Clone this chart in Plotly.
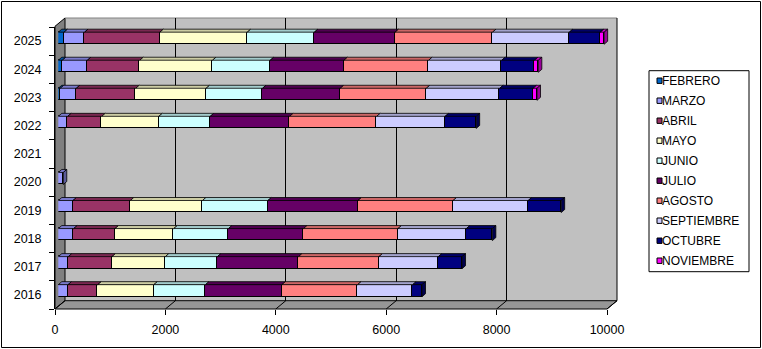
import plotly.graph_objects as go

# ---- data -------------------------------------------------------------
years = [2016, 2017, 2018, 2019, 2020, 2021, 2022, 2023, 2024, 2025]
months = ["FEBRERO", "MARZO", "ABRIL", "MAYO", "JUNIO", "JULIO",
          "AGOSTO", "SEPTIEMBRE", "OCTUBRE", "NOVIEMBRE"]

FEBRERO = [0, 0, 0, 0, 0, 0, 0, 36, 73, 105]
MARZO = [176, 181, 279, 266, 90, 0, 170, 290, 453, 370]
ABRIL = [539, 792, 749, 1039, 0, 0, 617, 1077, 950, 1365]
MAYO = [1015, 966, 1064, 1306, 0, 0, 1034, 1275, 1317, 1583]
JUNIO = [936, 943, 990, 1186, 0, 0, 931, 1021, 1046, 1215]
JULIO = [1385, 1469, 1360, 1632, 0, 0, 1439, 1409, 1336, 1463]
AGOSTO = [1371, 1458, 1712, 1723, 0, 0, 1577, 1559, 1534, 1765]
SEPTIEMBRE = [997, 1075, 1238, 1360, 0, 0, 1240, 1329, 1324, 1391]
OCTUBRE = [170, 430, 471, 598, 0, 0, 562, 606, 593, 562]
NOVIEMBRE = [0, 0, 0, 0, 0, 0, 0, 70, 70, 70]

series = [FEBRERO, MARZO, ABRIL, MAYO, JUNIO, JULIO,
          AGOSTO, SEPTIEMBRE, OCTUBRE, NOVIEMBRE]
colors = ["#0066CC", "#9999FF", "#993366", "#FFFFCC", "#CCFFFF",
          "#660066", "#FF8080", "#CCCCFF", "#000080", "#FF00FF"]

x_ticks = [0, 2000, 4000, 6000, 8000, 10000]
x_max = 10000

# ---- geometry of the 3-D box (pixels) ---------------------------------
W, H = 762, 349
L, R, T, B = 55, 617, 18, 309          # plot area
DEPTH_X, DEPTH_Y = 10, 8.3             # floor depth offset
PX_PER_UNIT = (R - DEPTH_X - L) / x_max


def fx(p):
    return (p - L) / (R - L)


def fy(p):
    return (B - p) / (B - T)


def shade(hex_color, k):
    h = hex_color.lstrip("#")
    r, g, b = (int(h[i:i + 2], 16) for i in (0, 2, 4))
    return "#%02X%02X%02X" % (int(r * k), int(g * k), int(b * k))


BAR_W = 0.43
TOP_DX = 3.5 / PX_PER_UNIT             # bar depth in data units
TOP_DY = 3.0 / 28.05

fig = go.Figure()

# placeholders so the grid subplot and the labelled axes are built
fig.add_trace(go.Scatter(x=[None], y=[None], xaxis="x", yaxis="y",
                         showlegend=False, hoverinfo="skip"))
fig.add_trace(go.Scatter(x=[None], y=[None], xaxis="x3", yaxis="y3",
                         showlegend=False, hoverinfo="skip"))

# front faces of the stacked bars
for name, vals, col in zip(months, series, colors):
    fig.add_trace(go.Bar(
        y=years, x=[v if v > 0 else None for v in vals], name=name,
        orientation="h", width=BAR_W, xaxis="x2", yaxis="y2",
        marker=dict(color=col, line=dict(color="#000000", width=1)),
        showlegend=False,
    ))

# top faces of every segment
cum = [0] * len(years)
last_col = [None] * len(years)
for name, vals, col in zip(months, series, colors):
    px, py = [], []
    for j, (yr, v) in enumerate(zip(years, vals)):
        if v > 0:
            x0, x1 = cum[j], cum[j] + v
            yt = yr + BAR_W / 2
            px += [x0, x1, x1 + TOP_DX, x0 + TOP_DX, x0, None]
            py += [yt, yt, yt + TOP_DY, yt + TOP_DY, yt, None]
            cum[j] = x1
            last_col[j] = col
    if px:
        fig.add_trace(go.Scatter(
            x=px, y=py, mode="lines", fill="toself",
            fillcolor=shade(col, 0.8),
            line=dict(color="#000000", width=0.8),
            xaxis="x2", yaxis="y2", showlegend=False, hoverinfo="skip",
            cliponaxis=False,
        ))

# right-hand side face at the end of each bar
for j, yr in enumerate(years):
    if cum[j] > 0:
        t = cum[j]
        yb, yt = yr - BAR_W / 2, yr + BAR_W / 2
        fig.add_trace(go.Scatter(
            x=[t, t, t + TOP_DX, t + TOP_DX, t],
            y=[yb, yt, yt + TOP_DY, yb + TOP_DY, yb],
            mode="lines", fill="toself", fillcolor=shade(last_col[j], 0.6),
            line=dict(color="#000000", width=0.8),
            xaxis="x2", yaxis="y2", showlegend=False, hoverinfo="skip",
            cliponaxis=False,
        ))

# ---- walls and floor ----------------------------------------------------
shapes = []
shapes.append(dict(type="rect", xref="paper", yref="paper", layer="below",
                   x0=fx(L + DEPTH_X), x1=fx(R), y0=fy(B - DEPTH_Y), y1=fy(T),
                   fillcolor="#C0C0C0", line=dict(width=0)))
shapes.append(dict(type="path", xref="paper", yref="paper", layer="below",
                   path=f"M{fx(L)},{fy(T + DEPTH_Y)} L{fx(L + DEPTH_X)},{fy(T)} "
                        f"L{fx(L + DEPTH_X)},{fy(B - DEPTH_Y)} L{fx(L)},{fy(B)} Z",
                   fillcolor="#808080", line=dict(color="#000000", width=1)))
shapes.append(dict(type="path", xref="paper", yref="paper", layer="below",
                   path=f"M{fx(L)},{fy(B)} L{fx(R - DEPTH_X)},{fy(B)} "
                        f"L{fx(R)},{fy(B - DEPTH_Y)} L{fx(L + DEPTH_X)},{fy(B - DEPTH_Y)} Z",
                   fillcolor="#969696", line=dict(color="#000000", width=1)))
shapes.append(dict(type="line", xref="paper", yref="paper", layer="below",
                   x0=fx(L + DEPTH_X), x1=fx(R), y0=fy(T), y1=fy(T),
                   line=dict(color="#808080", width=1)))
shapes.append(dict(type="line", xref="paper", yref="paper", layer="above",
                   x0=fx(R), x1=fx(R), y0=fy(T), y1=fy(B - DEPTH_Y),
                   line=dict(color="#000000", width=1)))
# grid lines carried across the floor
for v in x_ticks:
    xf = L + v * PX_PER_UNIT
    shapes.append(dict(type="line", xref="paper", yref="paper", layer="below",
                       x0=fx(xf), y0=fy(B), x1=fx(xf + DEPTH_X), y1=fy(B - DEPTH_Y),
                       line=dict(color="#000000", width=1)))

# chart border
shapes.append(dict(type="rect", xref="paper", yref="paper", layer="above",
                   x0=fx(1.5), x1=fx(W - 1.5), y0=fy(H - 1.5), y1=fy(1.5),
                   line=dict(color="#000000", width=1)))

# ---- legend -------------------------------------------------------------
LEG_X0, LEG_X1, LEG_Y0, LEG_Y1 = 649, 749, 70.7, 271.7
shapes.append(dict(type="rect", xref="paper", yref="paper", layer="above",
                   x0=fx(LEG_X0), x1=fx(LEG_X1), y0=fy(LEG_Y1), y1=fy(LEG_Y0),
                   fillcolor="#FFFFFF", line=dict(color="#000000", width=1)))
annotations = []
for i, (name, col) in enumerate(zip(months, colors)):
    yc = 80.7 + 20 * i
    shapes.append(dict(type="rect", xref="paper", yref="paper", layer="above",
                       x0=fx(657), x1=fx(662), y0=fy(yc + 2.7), y1=fy(yc - 2.7),
                       fillcolor=col, line=dict(color="#000000", width=1)))
    annotations.append(dict(xref="paper", yref="paper", x=fx(659.5), y=fy(yc),
                            xanchor="left", yanchor="middle", text=name,
                            showarrow=False,
                            font=dict(family="Liberation Sans, Arial", size=12,
                                      color="#000000")))

tick_font = dict(family="Liberation Sans, Arial", size=12.5, color="#000000")

fig.update_layout(
    width=W, height=H,
    margin=dict(l=L, r=W - R, t=T, b=H - B, pad=0),
    paper_bgcolor="#FFFFFF", plot_bgcolor="rgba(0,0,0,0)",
    barmode="stack", bargap=0, showlegend=False,
    shapes=shapes, annotations=annotations,
    # grid on the back wall
    xaxis=dict(domain=[fx(L + DEPTH_X), 1], range=[0, x_max], anchor="y",
               tickvals=x_ticks, showgrid=True, gridcolor="#000000",
               gridwidth=1, showticklabels=False, ticks="", zeroline=False,
               showline=False, fixedrange=True),
    yaxis=dict(domain=[fy(B - DEPTH_Y), 1], range=[0, 1], anchor="x",
               visible=False, fixedrange=True),
    # bars
    xaxis2=dict(domain=[fx(58.3), fx(58.3 + x_max * PX_PER_UNIT)],
                range=[0, x_max], anchor="y2", visible=False, fixedrange=True),
    yaxis2=dict(domain=[fy(304.73), fy(24.17)], range=[2015.5, 2025.5],
                anchor="x2", visible=False, fixedrange=True),
    # value axis labels along the front of the floor
    xaxis3=dict(domain=[0, fx(R - DEPTH_X)], range=[0, x_max], anchor="y3",
                tickvals=x_ticks, ticktext=[str(v) for v in x_ticks],
                ticks="outside", ticklen=5, tickcolor="#000000",
                showgrid=False, zeroline=False, showline=False,
                tickfont=tick_font, ticklabelstandoff=4, fixedrange=True),
    # year labels along the front of the left wall
    yaxis3=dict(domain=[0, fy(27)], range=[2015.5, 2025.5], anchor="x3",
                tickvals=years, ticktext=[str(y) for y in years],
                ticks="outside", ticklen=5, tickcolor="rgba(0,0,0,0)",
                minor=dict(tickvals=[y - 0.5 for y in years] + [2025.5],
                           ticks="outside", ticklen=5, tickcolor="#000000"),
                showgrid=False, zeroline=False, showline=True,
                linecolor="#000000", linewidth=1,
                tickfont=tick_font, ticklabelstandoff=5, fixedrange=True),
)

fig.write_html("out.html")
